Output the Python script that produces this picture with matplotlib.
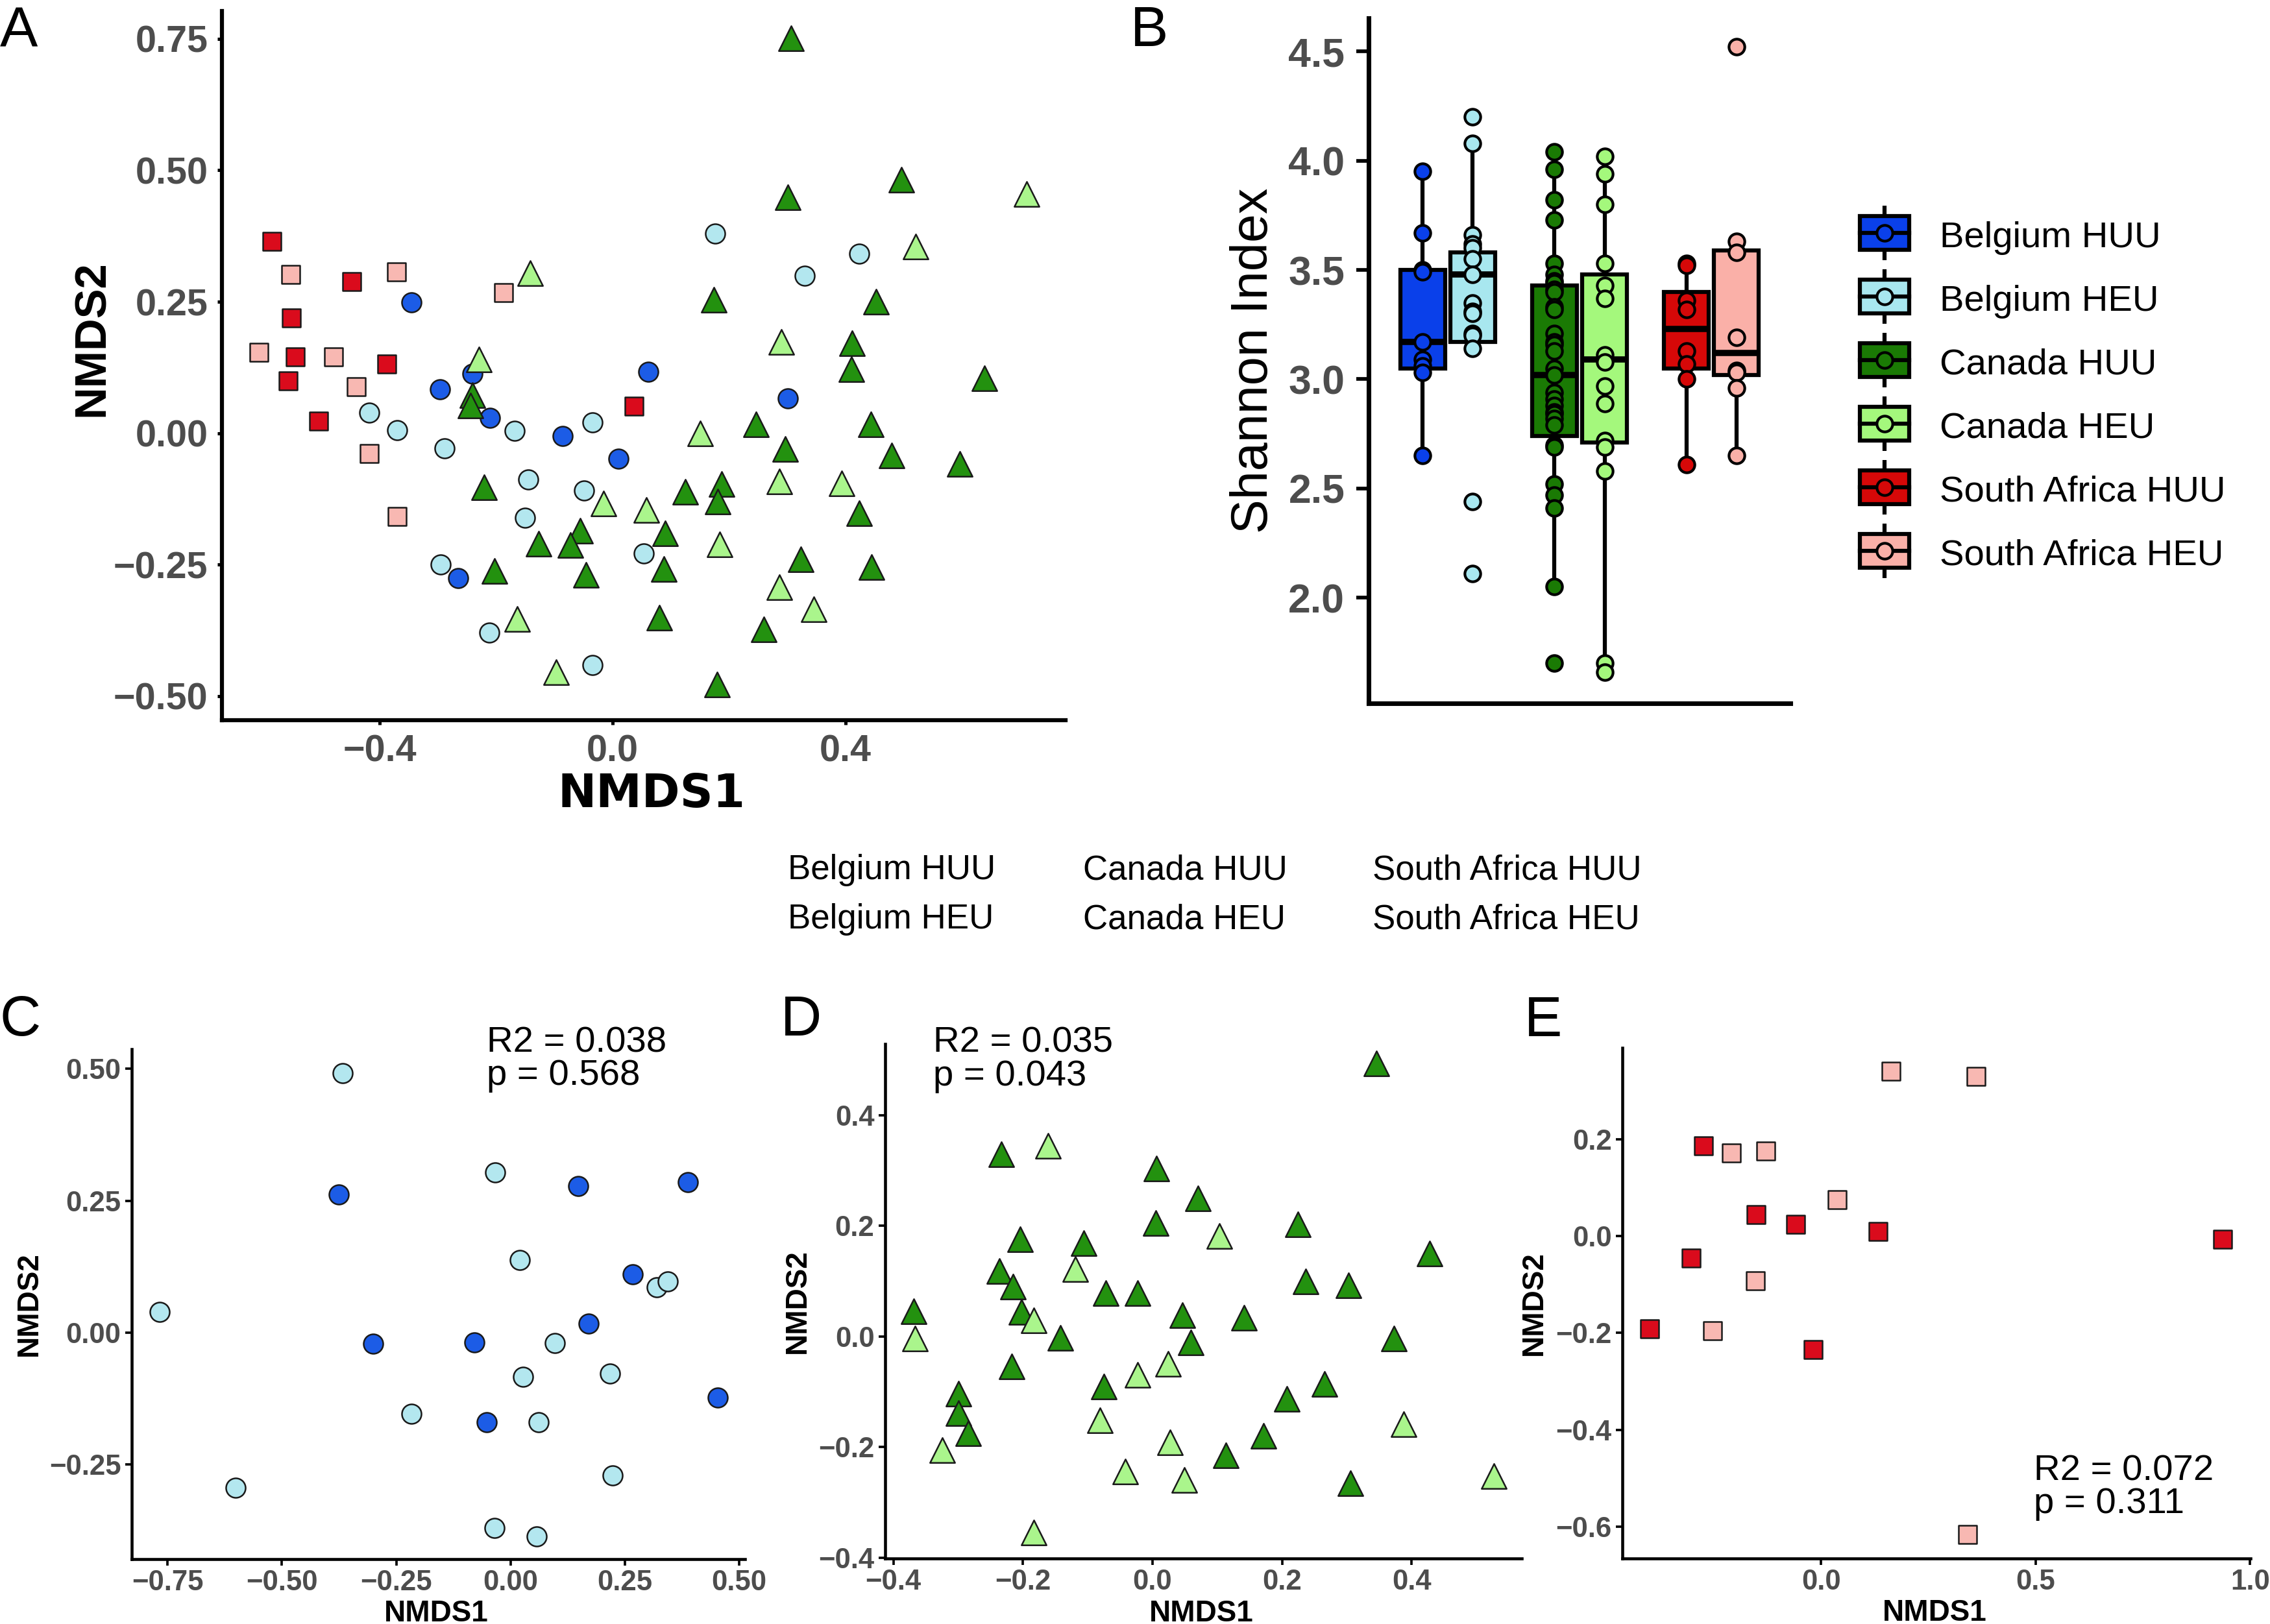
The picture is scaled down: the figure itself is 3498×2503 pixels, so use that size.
import numpy as np
import matplotlib
matplotlib.use("Agg")
import matplotlib.pyplot as plt
from matplotlib.patches import Rectangle

plt.rcParams['font.family'] = ['Liberation Sans', 'DejaVu Sans']

W, H = 3498, 2503
DPI = 300

# groups, colours and shapes
groups = ["Belgium HUU", "Belgium HEU", "Canada HUU", "Canada HEU",
          "South Africa HUU", "South Africa HEU"]
point_colors = ["#1C5CE6", "#B3E7EF", "#23910F", "#AAF58C", "#DA0B1C", "#F8B8B2"]
box_colors = ["#0A40EA", "#A8E7EF", "#1A7A04", "#A4F87C", "#D60808", "#FAB0A8"]
markers = ["o", "o", "^", "^", "s", "s"]
msize = {"o": 52, "^": 85, "s": 44}

# ---- panel A: NMDS of all samples ----
a_bel_huu_x = [-0.346, -0.297, -0.241, 0.061, -0.211, -0.086, 0.010, -0.265, 0.301]
a_bel_huu_y = [0.249, 0.084, 0.113, 0.117, 0.029, -0.006, -0.048, -0.276, 0.066]
a_bel_heu_x = [-0.418, -0.370, -0.289, -0.168, -0.034, -0.145, -0.049, -0.150,
               -0.295, -0.212, -0.034, 0.054, 0.176, 0.424, 0.330]
a_bel_heu_y = [0.039, 0.006, -0.029, 0.004, 0.020, -0.088, -0.109, -0.161,
               -0.250, -0.379, -0.441, -0.229, 0.380, 0.341, 0.300]
a_can_huu_x = [0.307, 0.301, 0.496, 0.174, 0.452, 0.411, 0.410, 0.639, 0.246, 0.444,
               0.296, 0.479, 0.596, 0.187, 0.125, 0.181, 0.423, 0.090, -0.056, -0.073,
               0.323, 0.445, 0.088, -0.046, 0.260, 0.080, 0.180, -0.241, -0.244, -0.221,
               -0.127, -0.203]
a_can_huu_y = [0.751, 0.449, 0.482, 0.254, 0.250, 0.171, 0.122, 0.105, 0.017, 0.017,
               -0.030, -0.043, -0.058, -0.097, -0.111, -0.130, -0.152, -0.190, -0.185, -0.213,
               -0.240, -0.255, -0.258, -0.269, -0.373, -0.351, -0.478, 0.072, 0.052, -0.103,
               -0.210, -0.262]
a_can_heu_x = [0.711, 0.521, 0.290, 0.151, 0.286, 0.394, -0.016, 0.058, 0.184, 0.286,
               0.346, -0.230, -0.142, -0.164, -0.097]
a_can_heu_y = [0.455, 0.355, 0.174, 0.000, -0.092, -0.095, -0.134, -0.146, -0.212, -0.293,
               -0.335, 0.140, 0.304, -0.353, -0.455]
a_sa_huu_x = [-0.585, -0.448, -0.552, -0.545, -0.388, -0.557, -0.505, 0.037]
a_sa_huu_y = [0.365, 0.288, 0.219, 0.145, 0.131, 0.100, 0.023, 0.051]
a_sa_heu_x = [-0.553, -0.371, -0.187, -0.608, -0.479, -0.440, -0.418, -0.370]
a_sa_heu_y = [0.302, 0.307, 0.267, 0.154, 0.145, 0.088, -0.039, -0.159]

# ---- panel B: Shannon index ----
b_bel_huu = [3.95, 3.67, 3.50, 3.49, 3.17, 3.09, 3.06, 3.03, 2.65]
b_bel_heu = [4.20, 4.08, 3.66, 3.62, 3.60, 3.55, 3.48, 3.35, 3.31, 3.30, 3.21, 3.20,
             3.14, 2.44, 2.11]
b_can_huu = [4.04, 3.96, 3.82, 3.73, 3.53, 3.48, 3.45, 3.44, 3.41, 3.40, 3.33, 3.32,
             3.21, 3.17, 3.16, 3.13, 3.05, 3.02, 2.94, 2.91, 2.88, 2.85, 2.84, 2.82,
             2.79, 2.70, 2.69, 2.52, 2.47, 2.41, 2.05, 1.70]
b_can_heu = [4.02, 3.94, 3.80, 3.53, 3.43, 3.37, 3.11, 3.08, 2.97, 2.89, 2.72, 2.69,
             2.58, 1.70, 1.66]
b_sa_huu = [3.53, 3.52, 3.36, 3.32, 3.13, 3.07, 3.00, 2.61]
b_sa_heu = [4.52, 3.63, 3.58, 3.19, 3.04, 3.03, 2.96, 2.65]
box_q1 = [3.05, 3.17, 2.74, 2.71, 3.05, 3.02]
box_med = [3.17, 3.48, 3.02, 3.09, 3.23, 3.12]
box_q3 = [3.50, 3.58, 3.43, 3.48, 3.40, 3.59]
box_lo = [2.65, 3.14, 2.05, 1.66, 2.61, 2.65]
box_hi = [3.95, 4.08, 4.04, 4.02, 3.53, 3.63]
country_idx = [1, 1, 2, 2, 3, 3]
dodge = [-0.19, 0.19, -0.19, 0.19, -0.19, 0.19]

# ---- panel C: Belgium ----
c_huu_x = [-0.375, 0.149, 0.388, 0.268, 0.171, -0.300, -0.079, -0.052, 0.453]
c_huu_y = [0.262, 0.278, 0.285, 0.111, 0.017, -0.021, -0.019, -0.170, -0.123]
c_heu_x = [-0.367, -0.033, 0.021, 0.320, 0.345, -0.768, 0.097, 0.027, 0.218, -0.217,
           0.062, 0.224, -0.601, -0.035, 0.058]
c_heu_y = [0.492, 0.303, 0.138, 0.086, 0.097, 0.039, -0.020, -0.084, -0.077, -0.154,
           -0.170, -0.270, -0.294, -0.370, -0.386]
c_stats = ["R2 = 0.038", "p = 0.568"]

# ---- panel D: Canada ----
d_huu_x = [0.346, -0.233, 0.006, 0.070, 0.005, 0.224, -0.204, -0.106, 0.428, -0.236,
           -0.215, 0.236, 0.303, -0.072, -0.023, -0.369, -0.202, 0.046, 0.141, -0.142,
           0.059, 0.373, -0.217, -0.075, 0.265, -0.300, 0.207, -0.300, -0.284, 0.171,
           0.113, 0.306]
d_huu_y = [0.494, 0.330, 0.304, 0.250, 0.205, 0.203, 0.176, 0.169, 0.150, 0.118,
           0.090, 0.100, 0.092, 0.079, 0.079, 0.045, 0.044, 0.038, 0.034, -0.002,
           -0.011, -0.004, -0.054, -0.090, -0.086, -0.103, -0.113, -0.139, -0.175, -0.180,
           -0.215, -0.265]
d_heu_x = [-0.161, 0.103, -0.119, -0.183, -0.367, -0.023, 0.024, -0.081, 0.388, 0.027,
           -0.325, -0.042, 0.049, 0.527, -0.183]
d_heu_y = [0.345, 0.182, 0.122, 0.029, -0.004, -0.069, -0.050, -0.152, -0.159, -0.191,
           -0.206, -0.244, -0.259, -0.253, -0.354]
d_stats = ["R2 = 0.035", "p = 0.043"]

# ---- panel E: South Africa ----
e_huu_x = [-0.274, -0.152, -0.060, 0.133, -0.304, -0.400, -0.019, 0.936]
e_huu_y = [0.187, 0.045, 0.024, 0.009, -0.045, -0.192, -0.235, -0.006]
e_heu_x = [0.163, 0.361, -0.209, -0.129, 0.037, -0.154, -0.254, 0.342]
e_heu_y = [0.341, 0.330, 0.172, 0.176, 0.075, -0.092, -0.195, -0.617]
e_stats = ["R2 = 0.072", "p = 0.311"]

GREY = "#4D4D4D"


def lab(v, d):
    return f"{v:.{d}f}".replace("-", "\u2212")


def style(ax, lw, tlen, tpad, fs, xt, xd, yt, yd):
    for s in ["top", "right"]:
        ax.spines[s].set_visible(False)
    for s in ["left", "bottom"]:
        ax.spines[s].set_linewidth(lw)
    ax.tick_params(direction="out", length=tlen, width=lw * 0.8, pad=tpad,
                   color="black", labelcolor=GREY)
    if xt is not None:
        ax.set_xticks(xt, [lab(v, xd) for v in xt], fontsize=fs, fontweight="bold")
    ax.set_yticks(yt, [lab(v, yd) for v in yt], fontsize=fs, fontweight="bold")


def scatter(ax, x, y, gi, s=None):
    m = markers[gi]
    ax.scatter(x, y, marker=m, s=s or msize[m], c=point_colors[gi],
               edgecolors="#1a1a1a", linewidths=0.6, zorder=3)


fig = plt.figure(figsize=(W / DPI, H / DPI), dpi=DPI)

# ---------- A ----------
axA = fig.add_axes([342 / W, 1 - 1110 / H, 1300 / W, 1093 / H])
a_sets = [(a_bel_huu_x, a_bel_huu_y), (a_bel_heu_x, a_bel_heu_y),
          (a_can_huu_x, a_can_huu_y), (a_can_heu_x, a_can_heu_y),
          (a_sa_huu_x, a_sa_huu_y), (a_sa_heu_x, a_sa_heu_y)]
for gi, (x, y) in enumerate(a_sets):
    scatter(axA, x, y, gi)
axA.set_xlim(-0.671, 0.778)
axA.set_ylim(-0.546, 0.803)
style(axA, 1.5, 1.7, 3.5, 13.8, [-0.4, 0.0, 0.4], 1,
      [-0.50, -0.25, 0.0, 0.25, 0.50, 0.75], 2)
axA.set_xlabel("NMDS1", fontsize=17, fontweight="bold", family="DejaVu Sans")
axA.xaxis.set_label_coords(0.509, -0.1226)
axA.xaxis.label.set_verticalalignment("baseline")
axA.set_ylabel("NMDS2", fontsize=16.5, fontweight="bold")
axA.yaxis.set_label_coords(-0.1404, 0.538)
axA.yaxis.label.set_verticalalignment("baseline")

# ---------- B ----------
axB = fig.add_axes([2109 / W, 1 - 1084 / H, 650 / W, 1056 / H])
b_vals = [b_bel_huu, b_bel_heu, b_can_huu, b_can_heu, b_sa_huu, b_sa_heu]
pos = np.array(country_idx) + np.array(dodge)
stats = [dict(med=box_med[i], q1=box_q1[i], q3=box_q3[i], whislo=box_lo[i],
              whishi=box_hi[i], fliers=[]) for i in range(len(groups))]
bp = axB.bxp(stats, positions=pos, widths=0.34, patch_artist=True, showcaps=False,
             showfliers=False,
             boxprops=dict(linewidth=1.5, edgecolor="black"),
             whiskerprops=dict(linewidth=1.5, color="black"),
             medianprops=dict(linewidth=2.3, color="black"))
for patch, col in zip(bp["boxes"], box_colors):
    patch.set_facecolor(col)
for i, v in enumerate(b_vals):
    axB.scatter(np.full(len(v), pos[i]), v, s=34, c=box_colors[i],
                edgecolors="black", linewidths=1.0, zorder=4)
axB.set_xlim(0.4, 3.6)
axB.set_ylim(1.517, 4.652)
style(axB, 1.7, 4.5, 4.3, 15, None, 1, [2.0, 2.5, 3.0, 3.5, 4.0, 4.5], 1)
axB.set_xticks([])
axB.set_ylabel("Shannon Index", fontsize=19)
axB.yaxis.set_label_coords(-0.24, 0.5)
axB.yaxis.label.set_verticalalignment("baseline")

# ---------- C, D, E ----------
def small_panel(rect, sets, gis, xlim, ylim, xt, xd, yt, yd, ylab_x):
    ax = fig.add_axes(rect)
    for (x, y), gi in zip(sets, gis):
        scatter(ax, x, y, gi)
    ax.set_xlim(*xlim)
    ax.set_ylim(*ylim)
    style(ax, 1.1, 2.4, 1.5, 10.5, xt, xd, yt, yd)
    ax.set_xlabel("NMDS1", fontsize=11, fontweight="bold")
    ax.xaxis.set_label_coords(0.497, -0.122)
    ax.xaxis.label.set_verticalalignment("baseline")
    ax.set_ylabel("NMDS2", fontsize=11, fontweight="bold")
    ax.yaxis.set_label_coords(ylab_x, 0.5)
    ax.yaxis.label.set_verticalalignment("baseline")
    return ax


axC = small_panel([202.8 / W, 1 - 2403 / H, 945 / W, 786 / H],
                  [(c_heu_x, c_heu_y), (c_huu_x, c_huu_y)], [1, 0],
                  (-0.829, 0.513), (-0.429, 0.537),
                  [-0.75, -0.50, -0.25, 0.0, 0.25, 0.50], 2, [-0.25, 0.0, 0.25, 0.50], 2,
                  -0.154)
axD = small_panel([1363.7 / W, 1 - 2402 / H, 981.3 / W, 793 / H],
                  [(d_huu_x, d_huu_y), (d_heu_x, d_heu_y)], [2, 3],
                  (-0.413, 0.570), (-0.4015, 0.529),
                  [-0.4, -0.2, 0.0, 0.2, 0.4], 1, [-0.4, -0.2, 0.0, 0.2, 0.4], 1,
                  -0.125)
axE = small_panel([2499.8 / W, 1 - 2402 / H, 968.2 / W, 787 / H],
                  [(e_heu_x, e_heu_y), (e_huu_x, e_huu_y)], [5, 4],
                  (-0.464, 1.001), (-0.666, 0.389),
                  [0.0, 0.5, 1.0], 1, [-0.6, -0.4, -0.2, 0.0, 0.2], 1,
                  -0.128)

# ---------- overlay: labels, legends, stats ----------
ov = fig.add_axes([0, 0, 1, 1])
ov.set_xlim(0, W)
ov.set_ylim(H, 0)
ov.axis("off")

for letter, x, y in [("A", 0, 72), ("B", 1742, 71), ("C", 0, 1596),
                     ("D", 1203, 1596), ("E", 2349, 1597)]:
    ov.text(x, y, letter, fontsize=21, va="baseline", ha="left")

for (l1, l2), x, y1, y2 in [(c_stats, 750, 1621, 1672), (d_stats, 1438, 1621, 1673),
                            (e_stats, 3134, 2282, 2332)]:
    ov.text(x, y1, l1, fontsize=13.5, va="baseline")
    ov.text(x, y2, l2, fontsize=13.5, va="baseline")

# box legend of panel B
for i, g in enumerate(groups):
    cy = 358.6 + i * 98
    ov.plot([2904, 2904], [cy - 42, cy + 42], color="black", lw=1.5,
            solid_capstyle="butt", zorder=1)
    ov.add_patch(Rectangle((2866, cy - 26), 76, 52, facecolor=box_colors[i],
                           edgecolor="black", lw=1.5, zorder=2))
    ov.plot([2866, 2942], [cy, cy], color="black", lw=1.5, zorder=3)
    ov.scatter([2904], [cy], s=34, c=box_colors[i], edgecolors="black",
               linewidths=1.0, zorder=4)
    ov.text(2989, cy + 22, g, fontsize=13.5, va="baseline")

# shared legend text row between the panels
col_x = [1214, 1669, 2115]
row_y = [1355, 1431]
for gi, g in enumerate(groups):
    ov.text(col_x[gi // 2], row_y[gi % 2], g, fontsize=12.7, va="baseline")

fig.savefig("out.png", dpi=DPI)
